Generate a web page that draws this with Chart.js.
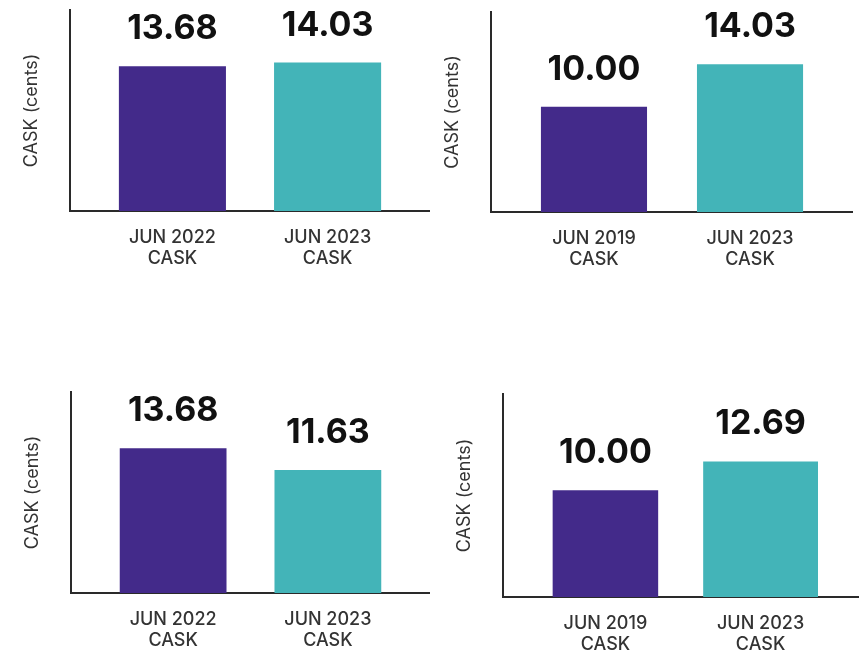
<!DOCTYPE html>
<html>
<head>
<meta charset="utf-8">
<script src="https://cdn.jsdelivr.net/npm/chart.js@4.4.0/dist/chart.umd.min.js"></script>
<style>
  html, body { margin: 0; padding: 0; background: #fff; width: 859px; height: 651px; overflow: hidden; }
  .panel { position: absolute; }
</style>
</head>
<body>
<div class="panel" id="p1"><canvas id="c1"></canvas></div>
<div class="panel" id="p2"><canvas id="c2"></canvas></div>
<div class="panel" id="p3"><canvas id="c3"></canvas></div>
<div class="panel" id="p4"><canvas id="c4"></canvas></div>
<script>
// CASK comparisons, cents per available seat km
const metric = 'CASK';
const periods2022 = ['JUN 2022', 'JUN 2023'];
const periods2019 = ['JUN 2019', 'JUN 2023'];
const caskTopLeft = [13.68, 14.03];
const caskTopRight = [10.00, 14.03];
const caskBottomLeft = [13.68, 11.63];
const caskBottomRight = [10.00, 12.69];

const PURPLE = '#432a8a';
const TEAL = '#43b4b8';
const INK = '#333333';

// y-axis gutter, top padding and x-axis band (px)
const AXIS_W = 50, PAD_TOP = 10, AXIS_H = 60;

// value labels above each bar
const valueLabels = {
  id: 'valueLabels',
  afterDatasetsDraw(chart) {
    const ctx = chart.ctx;
    ctx.save();
    ctx.font = '700 34px Inter, "Liberation Sans", sans-serif';
    ctx.fillStyle = '#111';
    ctx.textAlign = 'center';
    ctx.textBaseline = 'alphabetic';
    chart.data.datasets.forEach((ds, i) => {
      chart.getDatasetMeta(i).data.forEach((bar, j) => {
        const v = ds.data[j];
        if (!v) return;
        ctx.fillText(v.y.toFixed(2), bar.x, bar.y - 27);
      });
    });
    ctx.restore();
  }
};

function makeChart(n, periods, values, box, widths) {
  const wrap = document.getElementById('p' + n);
  wrap.style.left = (box.x - AXIS_W) + 'px';
  wrap.style.top = (box.y - PAD_TOP) + 'px';
  wrap.style.width = (AXIS_W + box.w) + 'px';
  wrap.style.height = (PAD_TOP + box.h + AXIS_H) + 'px';

  new Chart(document.getElementById('c' + n), {
    type: 'bar',
    data: {
      datasets: [
        { data: [{ x: 0, y: values[0] }], backgroundColor: PURPLE, grouped: false, barPercentage: widths[0], categoryPercentage: 1 },
        { data: [{ x: 1, y: values[1] }], backgroundColor: TEAL, grouped: false, barPercentage: widths[1], categoryPercentage: 1 }
      ]
    },
    options: {
      responsive: true,
      maintainAspectRatio: false,
      animation: false,
      layout: { padding: { top: PAD_TOP } },
      plugins: { legend: { display: false }, tooltip: { enabled: false } },
      scales: {
        x: {
          type: 'linear',
          offset: false,
          min: -0.66,
          max: 1.66,
          grid: { display: false },
          border: { display: true, color: '#2a2a2a', width: 2 },
          afterBuildTicks: s => { s.ticks = [{ value: 0 }, { value: 1 }]; },
          afterFit: s => { s.height = AXIS_H; },
          ticks: {
            autoSkip: false,
            maxRotation: 0,
            padding: 8,
            color: INK,
            font: { family: 'Inter, "Liberation Sans", sans-serif', size: 18, weight: '500', lineHeight: 1.17 },
            callback: v => [periods[Math.round(v)], metric]
          }
        },
        y: {
          min: 0,
          max: 19,
          grid: { display: false },
          border: { display: true, color: '#2a2a2a', width: 2 },
          ticks: { display: false },
          afterFit: s => { s.width = AXIS_W; },
          title: {
            display: true,
            text: 'CASK (cents)',
            color: INK,
            padding: { top: 1 },
            font: { family: 'Inter, "Liberation Sans", sans-serif', size: 18 }
          }
        }
      }
    },
    plugins: [valueLabels]
  });
}

makeChart(1, periods2022, caskTopLeft, { x: 70, y: 10, w: 360, h: 201 }, [0.69, 0.69]);
makeChart(2, periods2019, caskTopRight, { x: 491, y: 12, w: 362, h: 200 }, [0.68, 0.68]);
makeChart(3, periods2022, caskBottomLeft, { x: 71, y: 392, w: 359, h: 201 }, [0.69, 0.69]);
makeChart(4, periods2019, caskBottomRight, { x: 503, y: 394, w: 360, h: 203 }, [0.68, 0.74]);
</script>
</body>
</html>
